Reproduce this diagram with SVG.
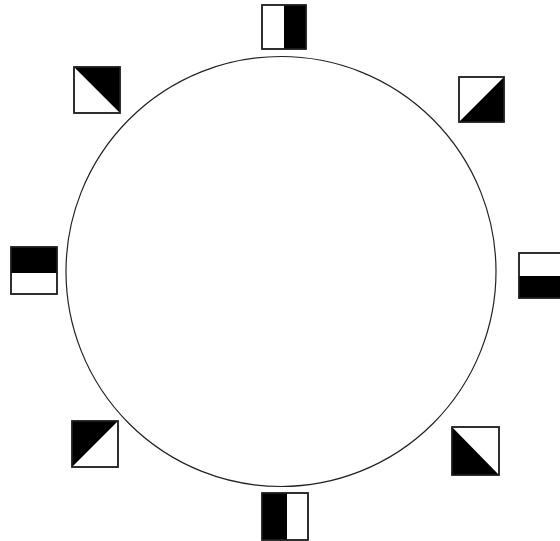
<svg xmlns="http://www.w3.org/2000/svg" width="560" height="541" viewBox="0 0 560 541">
<style>
.sq{fill:#fff;stroke:#222;stroke-width:1.5}
.bk{fill:#000}
.ring{fill:none;stroke:#222;stroke-width:1.2}
</style>
<rect width="560" height="541" fill="#fff"/>
<g id="connectors">
<circle class="ring" cx="281" cy="271.5" r="215"/>
</g>
<g id="n-top"><rect class="sq" x="262" y="5" width="44" height="44"/><rect class="bk" x="284" y="5" width="22" height="44"/><rect class="sq" x="262" y="5" width="44" height="44" fill="none" style="fill:none"/></g>
<g id="n-topleft"><rect class="sq" x="74" y="67" width="46" height="46"/><polygon class="bk" points="74,67 120,67 120,113"/><rect class="sq" x="74" y="67" width="46" height="46" style="fill:none"/></g>
<g id="n-topright"><rect class="sq" x="459" y="77" width="45" height="45"/><polygon class="bk" points="459,122 504,77 504,122"/><rect class="sq" x="459" y="77" width="45" height="45" style="fill:none"/></g>
<g id="n-left"><rect class="sq" x="11" y="247" width="46" height="47"/><rect class="bk" x="11" y="247" width="46" height="26"/><rect class="sq" x="11" y="247" width="46" height="47" style="fill:none"/></g>
<g id="n-right"><rect class="sq" x="519" y="253" width="46" height="45"/><rect class="bk" x="519" y="276" width="46" height="22"/><rect class="sq" x="519" y="253" width="46" height="45" style="fill:none"/></g>
<g id="n-bottomleft"><rect class="sq" x="72" y="421" width="46" height="46"/><polygon class="bk" points="72,421 118,421 72,467"/><rect class="sq" x="72" y="421" width="46" height="46" style="fill:none"/></g>
<g id="n-bottomright"><rect class="sq" x="452" y="427" width="47" height="48"/><polygon class="bk" points="452,427 499,475 452,475"/><rect class="sq" x="452" y="427" width="47" height="48" style="fill:none"/></g>
<g id="n-bottom"><rect class="sq" x="262" y="493" width="46" height="47"/><rect class="bk" x="262" y="493" width="25" height="47"/><rect class="sq" x="262" y="493" width="46" height="47" style="fill:none"/></g>
</svg>
